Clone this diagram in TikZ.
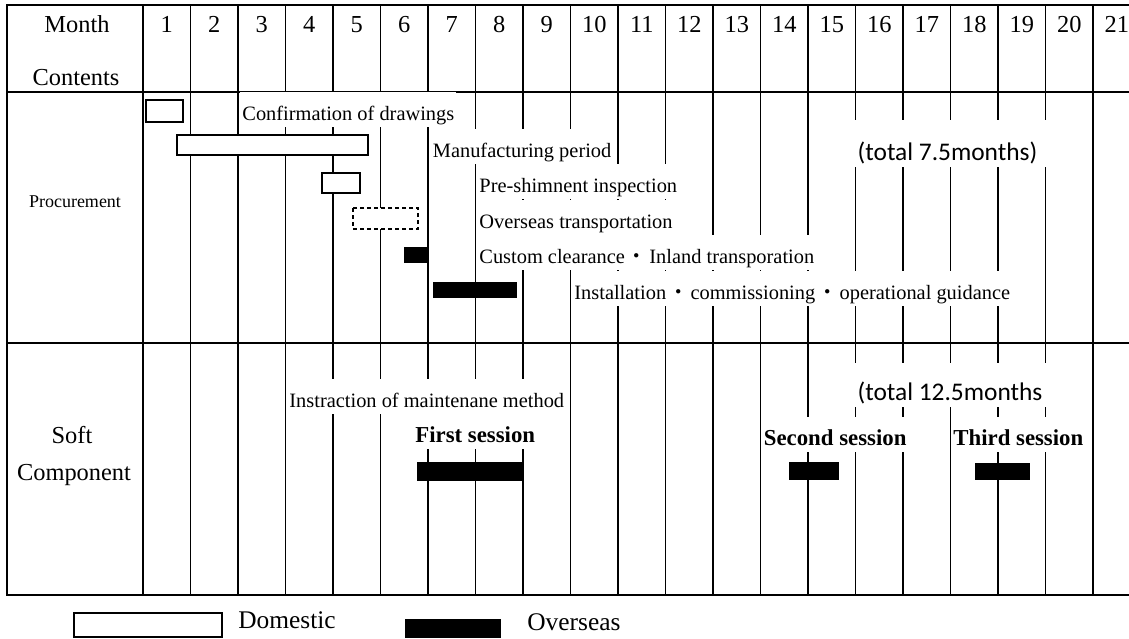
\documentclass[tikz,border=0pt]{standalone}
\usepackage{fontspec}
\setmainfont{Liberation Serif}
\newfontfamily\calibfont{Carlito}
\newfontfamily\cjkfont{Noto Sans CJK JP}
\newcommand{\mdot}{\hspace{1pt}{\cjkfont ・}\hspace{1pt}}

\begin{document}
\begin{tikzpicture}[x=0.5pt, y=-0.5pt]
    \tikzset{grid/.style={line width=0.75pt},
      head/.style={font=\fontsize{12.2}{14}\selectfont, anchor=base, inner sep=0pt},
      task/.style={fill=white, anchor=base west, inner xsep=1pt, inner ysep=0pt,
        text height=13.8pt, text depth=3.5pt, font=\fontsize{10.2}{12}\selectfont},
      session/.style={task, font=\fontsize{11.4}{13}\selectfont\bfseries},
      total/.style={fill=white, anchor=base, inner xsep=5pt, inner ysep=0pt,
        text depth=3.5pt, font=\calibfont\fontsize{12.7}{15}\selectfont},
      legend/.style={anchor=base west, inner sep=0pt, font=\fontsize{12.7}{15}\selectfont},
      domestic/.style={draw, line width=0.75pt, fill=white},
      transport/.style={domestic, dash pattern=on 2pt off 1.5pt},
      overseas/.style={fill=black}
    }
    \useasboundingbox (0,0) rectangle (1129,638);

    % table
    \draw[grid] (1129,5) -- (7,5) -- (7,595) -- (1129,595);
    \draw[grid] (7,92) -- (1129,92);
    \draw[grid] (7,343) -- (1129,343);
    \foreach \m in {1,...,21} {
      \draw[grid] ({143+47.5*(\m-1)},5) -- ({143+47.5*(\m-1)},595);
      \node[head] (m\m) at ({166.75+47.5*(\m-1)},32) {\m};
    }

    \node[head] (month) at (77,32) {Month};
    \node[head] (contents) at (76,85) {Contents};
    \node[anchor=base, inner sep=0pt, font=\fontsize{9}{11}\selectfont] (proc) at (75,207) {Procurement};
    \node[head] (soft) at (72,443) {Soft};
    \node[head] (comp) at (74,480) {Component};

    % procurement
    \draw[domestic] (146,100) rectangle (183,122);
    \draw[domestic] (177,135) rectangle (368,155);
    \draw[domestic] (322,173) rectangle (360,193);
    \draw[transport] (353,208) rectangle (418,229);
    \fill[overseas] (404,247) rectangle (428,263);
    \fill[overseas] (433,282) rectangle (517,298);

    \node[task] (drawings) at (240,120) {Confirmation of drawings};
    \node[task] (making) at (430.5,157) {Manufacturing period};
    \node[task] (inspect) at (477,192) {Pre-shimnent inspection};
    \node[task] (shipping) at (477,228) {Overseas transportation};
    \node[task] (customs) at (477,263) {Custom clearance\mdot Inland transporation};
    \node[task] (install) at (572,299) {Installation\mdot commissioning\mdot operational guidance};
    \node[total, text height=20pt] (total1) at (947.5,160) {(total 7.5months)};

    % soft component
    \node[task] (teaching) at (287,407) {Instraction of maintenane method};
    \node[total, text height=18.5pt] (total2) at (950,400) {(total 12.5months};
    \node[session] (first) at (413,442) {First session};
    \node[session] (second) at (761.5,445) {Second session};
    \node[session] (third) at (951,445) {Third session};
    \fill[overseas] (417,462) rectangle (522,481);
    \fill[overseas] (789,462) rectangle (839,480);
    \fill[overseas] (975,463) rectangle (1030,480);

    % legend
    \draw[domestic] (74,613) rectangle (222,637);
    \node[legend] (dom) at (238,628) {Domestic};
    \fill[overseas] (405,619) rectangle (501,638);
    \node[legend] (ovs) at (527,630) {Overseas};
\end{tikzpicture}
\end{document}
